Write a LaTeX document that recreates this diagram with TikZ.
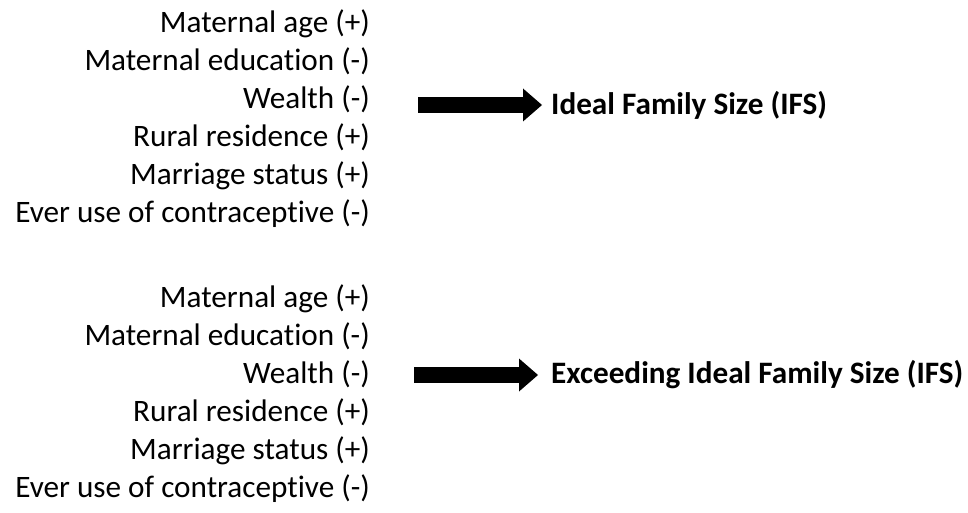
\documentclass[tikz,border=0pt]{standalone}
\usepackage{fontspec}
\setmainfont{Carlito}[RawFeature={-liga}]
\usetikzlibrary{arrows.meta}
\begin{document}
\begin{tikzpicture}[x=1pt,y=1pt,
  factor/.style={anchor=base east,inner sep=0pt,font=\fontsize{31.2}{38}\selectfont},
  outcome/.style={anchor=west,inner sep=0pt,font=\fontsize{31.2}{38}\selectfont\bfseries},
  bigarrow/.style={line width=16pt,-{Triangle[width=33pt,length=19pt,line width=0pt]}}]
\useasboundingbox (0,0) rectangle (968,512);
% group 1
\node[factor] (a1) at (370,479) {Maternal age (+)};
\node[factor] (a2) at (370,441) {Maternal education (-)};
\node[factor] (a3) at (370,403) {Wealth (-)};
\node[factor] (a4) at (370,365) {Rural residence (+)};
\node[factor] (a5) at (370,327) {Marriage status (+)};
\node[factor] (a6) at (370,289) {Ever use of contraceptive (-)};
% group 2
\node[factor] (b1) at (370,205) {Maternal age (+)};
\node[factor] (b2) at (370,167) {Maternal education (-)};
\node[factor] (b3) at (370,129) {Wealth (-)};
\node[factor] (b4) at (370,91) {Rural residence (+)};
\node[factor] (b5) at (370,53) {Marriage status (+)};
\node[factor] (b6) at (370,15) {Ever use of contraceptive (-)};
% outcomes
\node[outcome] (o1) at (551,407) {Ideal Family Size (IFS)};
\node[outcome] (o2) at (551,137) {Exceeding Ideal Family Size (IFS)};
\coordinate (s1) at (418,407);
\coordinate (s2) at (414,137);
\draw[bigarrow] (s1) -- ([xshift=-9pt]o1.west);
\draw[bigarrow] (s2) -- ([xshift=-13pt]o2.west);
\end{tikzpicture}
\end{document}
